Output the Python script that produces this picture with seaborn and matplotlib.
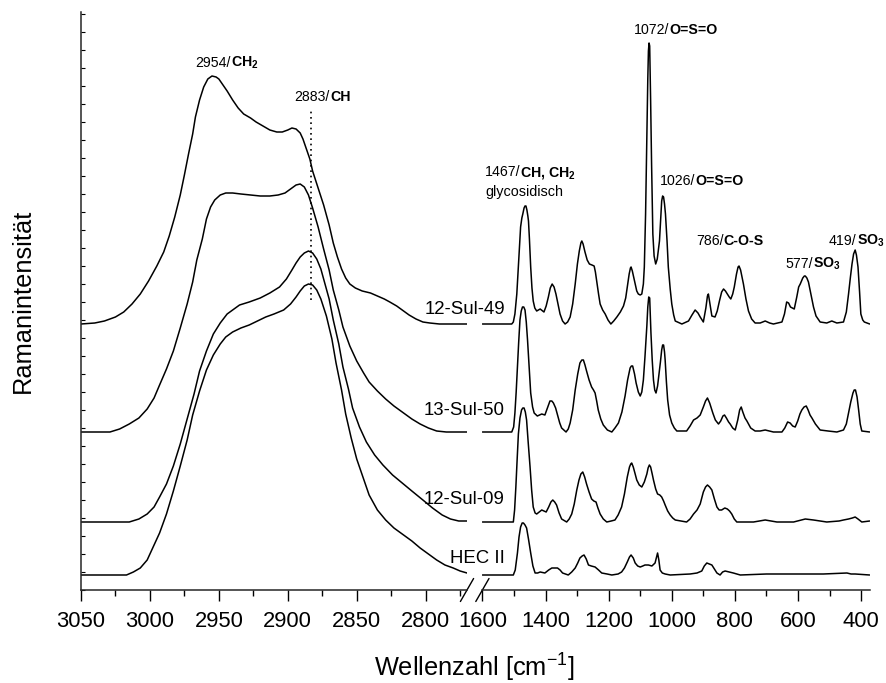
import numpy as np
import pandas as pd
import matplotlib
matplotlib.use("Agg")
import matplotlib.pyplot as plt
import seaborn as sns
from matplotlib.ticker import MultipleLocator
from matplotlib.offsetbox import TextArea, HPacker, AnnotationBbox

sns.set_style("ticks")
plt.rcParams['font.family'] = ['Liberation Sans', 'DejaVu Sans']
plt.rcParams['mathtext.fontset'] = 'custom'
plt.rcParams['mathtext.rm'] = 'Liberation Sans'
plt.rcParams['mathtext.it'] = 'Liberation Sans:italic'
plt.rcParams['mathtext.bf'] = 'Liberation Sans:bold'

# ---------------- data (wavenumber, intensity above own baseline) ----------------
samples = ["12-Sul-49", "13-Sul-50", "12-Sul-09", "HEC II"]

# C-H stretching region (3050-2770 cm-1)
s49_hi = [(3050, 0), (3040, 1), (3033, 3), (3025, 7), (3019, 12), (3013, 20), (3007, 30),
          (3001, 43), (2995, 58), (2990, 72), (2986, 88), (2982, 107), (2978, 129),
          (2975, 149), (2972, 170), (2969, 190), (2967, 207), (2964, 224), (2961, 237),
          (2958, 245), (2955, 248), (2952, 247), (2950, 245), (2948, 241), (2944, 233),
          (2940, 224), (2936, 216), (2932, 210), (2927, 206), (2923, 202), (2918, 198),
          (2913, 194), (2908, 192), (2904, 192), (2900, 194), (2897, 196), (2894, 195),
          (2891, 191), (2889, 185), (2887, 177), (2884, 165), (2882, 153), (2878, 136),
          (2874, 119), (2870, 99), (2867, 81), (2864, 67), (2861, 55), (2858, 46),
          (2855, 40), (2851, 36), (2846, 33), (2840, 31), (2835, 28), (2830, 25),
          (2826, 22), (2821, 18), (2817, 14), (2812, 9), (2807, 5), (2802, 2), (2797, 1),
          (2790, 0), (2770, 0)]
s50_hi = [(3050, 0), (3029, 0), (3022, 3), (3015, 8), (3008, 14), (3002, 23), (2997, 34),
          (2993, 47), (2988, 63), (2983, 81), (2978, 104), (2973, 128), (2969, 150),
          (2966, 172), (2962, 193), (2959, 213), (2956, 225), (2953, 232), (2949, 237),
          (2945, 239), (2940, 239), (2934, 238), (2927, 237), (2920, 236), (2913, 236),
          (2907, 237), (2902, 239), (2898, 243), (2894, 247), (2891, 248), (2888, 245),
          (2885, 237), (2882, 224), (2878, 205), (2874, 183), (2870, 162), (2867, 142),
          (2863, 122), (2860, 105), (2855, 86), (2850, 71), (2845, 59), (2841, 50),
          (2835, 41), (2829, 33), (2823, 26), (2817, 20), (2810, 13), (2804, 8), (2798, 4),
          (2792, 1), (2785, 0), (2770, 0)]
s09_hi = [(3050, 0), (3015, 0), (3008, 3), (3002, 8), (2997, 15), (2993, 25), (2988, 38),
          (2983, 56), (2978, 78), (2973, 103), (2968, 128), (2964, 151), (2959, 171),
          (2954, 188), (2949, 199), (2944, 208), (2939, 213), (2935, 217), (2928, 220),
          (2920, 224), (2913, 229), (2906, 235), (2901, 243), (2897, 252), (2894, 259),
          (2891, 265), (2888, 269), (2885, 271), (2882, 269), (2879, 263), (2876, 253),
          (2874, 243), (2870, 223), (2867, 202), (2863, 178), (2860, 155), (2856, 133),
          (2853, 114), (2848, 95), (2843, 80), (2837, 67), (2831, 57), (2824, 47),
          (2817, 39), (2810, 31), (2802, 22), (2795, 14), (2788, 7), (2782, 3), (2776, 1),
          (2770, 1)]
hec_hi = [(3050, 0), (3017, 0), (3012, 3), (3007, 7), (3002, 15), (2998, 27), (2993, 42),
          (2988, 61), (2983, 84), (2978, 109), (2973, 135), (2969, 160), (2964, 184),
          (2959, 205), (2954, 220), (2949, 231), (2945, 238), (2940, 243), (2934, 247),
          (2928, 250), (2922, 254), (2916, 258), (2910, 261), (2903, 265), (2898, 271),
          (2894, 278), (2891, 284), (2888, 289), (2885, 291), (2882, 290), (2879, 285),
          (2876, 276), (2872, 259), (2868, 236), (2865, 212), (2861, 185), (2858, 161),
          (2854, 137), (2850, 116), (2845, 96), (2841, 80), (2835, 65), (2829, 55),
          (2823, 47), (2817, 41), (2810, 34), (2804, 27), (2798, 21), (2792, 15),
          (2786, 10), (2780, 7), (2775, 4), (2770, 2)]

# fingerprint region (1600-372 cm-1)
s49_lo = [(1600, 0), (1507, 0), (1502, 2), (1497, 10), (1491, 30), (1486, 57), (1482, 80),
          (1479, 97), (1475, 106), (1472, 110), (1468, 116), (1465, 118), (1462, 118),
          (1459, 114), (1456, 108), (1454, 103), (1451, 85), (1447, 57), (1443, 36),
          (1439, 23), (1434, 16), (1428, 13), (1417, 15), (1405, 12), (1398, 18), (1391, 27),
          (1385, 36), (1379, 40), (1373, 37), (1367, 30), (1360, 19), (1354, 10), (1346, 3),
          (1338, 0), (1330, 2), (1322, 7), (1314, 20), (1306, 40), (1299, 60), (1293, 73),
          (1288, 81), (1285, 83), (1281, 80), (1275, 72), (1268, 64), (1261, 60), (1253, 59),
          (1246, 58), (1242, 52), (1238, 43), (1232, 30), (1227, 20), (1219, 14), (1211, 10),
          (1202, 4), (1193, 0), (1184, 3), (1174, 7), (1163, 12), (1153, 18), (1146, 26),
          (1141, 37), (1135, 50), (1131, 56), (1129, 57), (1125, 53), (1120, 46), (1116, 40),
          (1111, 33), (1106, 30), (1100, 29), (1095, 30), (1090, 40), (1087, 57), (1083, 110),
          (1079, 190), (1076, 245), (1074, 273), (1072, 281), (1070, 278), (1067, 223),
          (1064, 160), (1060, 90), (1056, 68), (1051, 60), (1046, 65), (1042, 75), (1039, 83),
          (1035, 105), (1032, 123), (1029, 128), (1026, 127), (1023, 120), (1020, 110),
          (1015, 83), (1011, 57), (1005, 35), (1000, 20), (994, 9), (989, 3), (968, 0),
          (947, 3), (936, 9), (926, 14), (917, 11), (910, 7), (900, 2), (892, 16), (887, 28),
          (884, 30), (879, 20), (873, 8), (863, 7), (856, 13), (849, 23), (842, 32), (836, 35),
          (830, 33), (824, 30), (818, 27), (813, 25), (807, 30), (802, 37), (795, 50),
          (790, 57), (787, 58), (782, 54), (777, 46), (773, 40), (765, 25), (757, 13),
          (747, 5), (736, 1), (720, 1), (704, 3), (690, 1), (678, 0), (651, 2), (643, 10),
          (636, 22), (630, 21), (624, 17), (612, 15), (604, 27), (598, 37), (593, 40),
          (585, 46), (580, 48), (577, 48), (572, 46), (567, 42), (560, 31), (551, 17),
          (543, 8), (530, 2), (509, 1), (493, 3), (477, 1), (456, 2), (447, 12), (440, 30),
          (434, 47), (429, 60), (424, 70), (419, 74), (415, 69), (410, 57), (405, 32),
          (401, 10), (395, 4), (390, 2), (373, 0)]
s50_lo = [(1600, 0), (1507, 0), (1501, 5), (1497, 19), (1493, 40), (1489, 66), (1485, 90),
          (1481, 112), (1477, 121), (1473, 125), (1469, 125), (1465, 122), (1461, 110),
          (1457, 92), (1452, 65), (1447, 39), (1441, 25), (1436, 19), (1426, 16), (1412, 18),
          (1402, 17), (1394, 24), (1386, 31), (1380, 31), (1375, 29), (1368, 24), (1362, 17),
          (1355, 9), (1349, 4), (1335, 0), (1328, 3), (1322, 9), (1314, 22), (1306, 42),
          (1298, 58), (1291, 69), (1285, 72), (1280, 72), (1275, 67), (1270, 61), (1262, 52),
          (1254, 45), (1248, 42), (1243, 39), (1238, 31), (1233, 22), (1225, 13), (1217, 7),
          (1204, 2), (1190, 0), (1180, 4), (1169, 9), (1158, 20), (1148, 36), (1140, 52),
          (1132, 64), (1128, 66), (1124, 66), (1118, 58), (1113, 49), (1106, 40), (1100, 36),
          (1095, 40), (1090, 52), (1085, 75), (1079, 106), (1076, 125), (1073, 135),
          (1070, 134), (1066, 99), (1062, 72), (1058, 52), (1054, 42), (1050, 39), (1045, 46),
          (1040, 59), (1036, 70), (1032, 82), (1029, 87), (1026, 87), (1023, 80), (1021, 72),
          (1017, 50), (1013, 32), (1007, 17), (1000, 9), (992, 4), (984, 1), (953, 1),
          (942, 6), (931, 12), (920, 14), (910, 17), (900, 25), (893, 31), (887, 34),
          (880, 29), (875, 24), (870, 19), (862, 12), (852, 8), (845, 11), (838, 16),
          (833, 17), (827, 14), (820, 10), (815, 8), (807, 4), (799, 2), (791, 12),
          (785, 22), (780, 25), (775, 20), (768, 14), (762, 11), (750, 4), (736, 1),
          (720, 1), (704, 2), (678, 0), (651, 0), (642, 4), (633, 10), (625, 9), (617, 6),
          (609, 5), (601, 11), (594, 18), (588, 22), (581, 25), (574, 26), (568, 22),
          (562, 17), (556, 14), (545, 8), (530, 2), (505, 1), (477, 0), (456, 2), (447, 8),
          (440, 19), (433, 30), (426, 39), (422, 42), (418, 42), (413, 35), (408, 22),
          (403, 8), (398, 1), (373, 0)]
s09_lo = [(1600, 0), (1502, 0), (1498, 12), (1494, 35), (1490, 62), (1486, 88), (1481, 104),
          (1476, 112), (1472, 114), (1468, 114), (1464, 110), (1460, 102), (1455, 80),
          (1449, 55), (1444, 32), (1439, 15), (1433, 9), (1428, 8), (1420, 10), (1412, 12),
          (1405, 11), (1398, 10), (1390, 15), (1383, 20), (1377, 22), (1371, 20), (1365, 17),
          (1357, 9), (1349, 3), (1333, 0), (1325, 3), (1317, 8), (1309, 18), (1301, 32),
          (1294, 42), (1288, 48), (1282, 50), (1276, 45), (1270, 38), (1262, 30), (1254, 23),
          (1247, 21), (1240, 20), (1234, 14), (1227, 8), (1217, 3), (1206, 0), (1192, 1),
          (1180, 2), (1170, 7), (1159, 15), (1150, 28), (1141, 45), (1134, 55), (1130, 58),
          (1127, 59), (1122, 55), (1116, 48), (1111, 42), (1103, 37), (1095, 35), (1087, 40),
          (1079, 48), (1075, 54), (1071, 57), (1067, 55), (1062, 48), (1058, 42), (1051, 33),
          (1045, 28), (1038, 27), (1032, 25), (1026, 21), (1021, 17), (1013, 11), (1005, 7),
          (997, 4), (989, 2), (953, 0), (942, 3), (931, 8), (920, 12), (910, 18), (905, 24),
          (900, 30), (893, 35), (887, 37), (880, 35), (873, 32), (865, 23), (857, 15),
          (850, 12), (842, 12), (832, 14), (824, 13), (817, 11), (810, 8), (802, 3),
          (794, 0), (741, 0), (704, 2), (667, 0), (614, 0), (577, 3), (551, 2), (509, 0),
          (470, 1), (456, 2), (440, 3), (428, 4), (419, 5), (410, 3), (398, 0), (373, 1)]
hec_lo = [(1600, 0), (1555, 0), (1502, 0), (1496, 5), (1489, 22), (1484, 38), (1479, 48),
          (1474, 52), (1470, 52), (1465, 50), (1460, 47), (1454, 36), (1447, 22), (1440, 9),
          (1433, 2), (1425, 2), (1417, 3), (1402, 2), (1390, 5), (1380, 7), (1371, 7),
          (1362, 7), (1354, 5), (1346, 2), (1328, 0), (1317, 3), (1306, 7), (1298, 12),
          (1291, 17), (1284, 19), (1278, 20), (1271, 16), (1264, 10), (1255, 9), (1243, 8),
          (1232, 5), (1222, 2), (1205, 1), (1190, 0), (1170, 1), (1159, 3), (1150, 7),
          (1141, 13), (1134, 18), (1129, 20), (1122, 17), (1116, 12), (1108, 9), (1100, 8),
          (1092, 9), (1085, 10), (1074, 10), (1063, 9), (1053, 12), (1049, 17), (1045, 22),
          (1041, 15), (1037, 5), (1030, 2), (1021, 1), (1005, 0), (942, 1), (920, 2),
          (905, 4), (897, 9), (889, 12), (881, 11), (873, 10), (865, 6), (857, 2), (847, 0),
          (839, 3), (831, 4), (818, 3), (805, 2), (783, 0), (700, 1), (604, 1), (520, 1),
          (445, 2), (432, 1), (419, 1), (373, 0)]

hi_region = [s49_hi, s50_hi, s09_hi, hec_hi]
lo_region = [s49_lo, s50_lo, s09_lo, hec_lo]
offsets = [266, 158, 68, 15]           # vertical stacking

# band assignments
ann_wn = [2954, 2883, 1467, 1072, 1026, 786, 577, 419]
ann_grp = ["CH$_\\mathbf{2}$", "CH", "CH, CH$_\\mathbf{2}$", "O=S=O", "O=S=O", "C-O-S",
           "SO$_\\mathbf{3}$", "SO$_\\mathbf{3}$"]

# ---------------- figure ----------------
W, H = 886, 683
fig = plt.figure(figsize=(W / 100, H / 100), dpi=100)
fig.patch.set_facecolor("white")


def frame(x0, y0, x1, y1):
    return [x0 / W, 1 - y1 / H, (x1 - x0) / W, (y1 - y0) / H]


axL = fig.add_axes(frame(81, 12, 467, 590))
axR = fig.add_axes(frame(482.4, 12, 870, 590))

for spec_hi, spec_lo, off in zip(hi_region, lo_region, offsets):
    for ax, spec in ((axL, spec_hi), (axR, spec_lo)):
        df = pd.DataFrame(spec, columns=["wn", "I"])
        df["I"] = df["I"] + off
        sns.lineplot(data=df, x="wn", y="I", ax=ax, color="black", linewidth=1.1,
                     estimator=None, sort=False, legend=False)

axL.set_xlim(3050, 2770)
axR.set_xlim(1600, 372)
for ax in (axL, axR):
    ax.set_ylim(0, 578)
    ax.set_xlabel("")
    ax.set_ylabel("")
    ax.set_facecolor("white")
    for s in ("top", "right"):
        ax.spines[s].set_visible(False)
    ax.spines["bottom"].set_linewidth(1.1)
    ax.spines["left"].set_linewidth(1.1)
    ax.tick_params(axis="x", which="major", direction="out", length=8, width=1.0,
                   labelsize=15.8, pad=7, color="black", labelcolor="black")
    ax.tick_params(axis="x", which="minor", direction="out", length=4.5, width=1.0,
                   color="black")

axL.xaxis.set_major_locator(MultipleLocator(50))
axL.xaxis.set_minor_locator(MultipleLocator(25))
axR.xaxis.set_major_locator(MultipleLocator(200))
axR.xaxis.set_minor_locator(MultipleLocator(100))

axL.yaxis.set_major_locator(MultipleLocator(18))
axL.tick_params(axis="y", which="major", direction="in", length=3, width=0.8,
                labelleft=False, color="black")
axR.spines["left"].set_visible(False)
axR.tick_params(axis="y", left=False, labelleft=False)

# axis break marks
dx, dy = 6.6, 11.5
axL.plot([1 - dx / 386, 1 + dx / 386], [-dy / 578, dy / 578], transform=axL.transAxes,
         color="black", lw=1.0, clip_on=False)
axR.plot([-dx / 387.6, dx / 387.6], [-dy / 578, dy / 578], transform=axR.transAxes,
         color="black", lw=1.0, clip_on=False)

# dotted marker at 2883
axL.plot([ann_wn[1], ann_wn[1]], [290, 482], color="black", lw=1.2,
         linestyle=(0, (1, 2.2)))


def band_label(ax, x, y, num, grp, fs=10.2):
    parts = [TextArea(f"{num}/", textprops=dict(fontsize=fs, color="black")),
             TextArea(grp, textprops=dict(fontsize=fs, fontweight="bold", color="black"))]
    box = HPacker(children=parts, align="baseline", pad=0, sep=0)
    ab = AnnotationBbox(box, (x, y), xycoords="data", box_alignment=(0, 0),
                        frameon=False, pad=0, annotation_clip=False)
    ax.add_artist(ab)


ann_pos = [(axL, 2967, 519), (axL, 2895, 486), (axR, 1592, 409), (axR, 1119, 553),
           (axR, 1037, 402), (axR, 923, 342), (axR, 641, 318), (axR, 502, 341)]
for (ax, x, y), num, grp in zip(ann_pos, ann_wn, ann_grp):
    band_label(ax, x, y, num, grp)
axR.text(1592, 394, "glycosidisch", fontsize=10.4, ha="left", va="baseline", color="black")

# sample names
label_base = [313.5, 415.5, 503.5, 563]
for name, yb in zip(samples, label_base):
    fig.text(505 / W, 1 - yb / H, name, ha="right", va="baseline", fontsize=13.4,
             color="black")

fig.text(474 / W, 1 - 676.7 / H, "Wellenzahl [cm$^{-1}$]", ha="center", va="baseline",
         fontsize=18.3, color="black")
fig.text(23 / W, 1 - 301 / H, "Ramanintensität", ha="center", va="center",
         rotation=90, fontsize=18.3, color="black")

fig.savefig("out.png", dpi=100, facecolor="white")
